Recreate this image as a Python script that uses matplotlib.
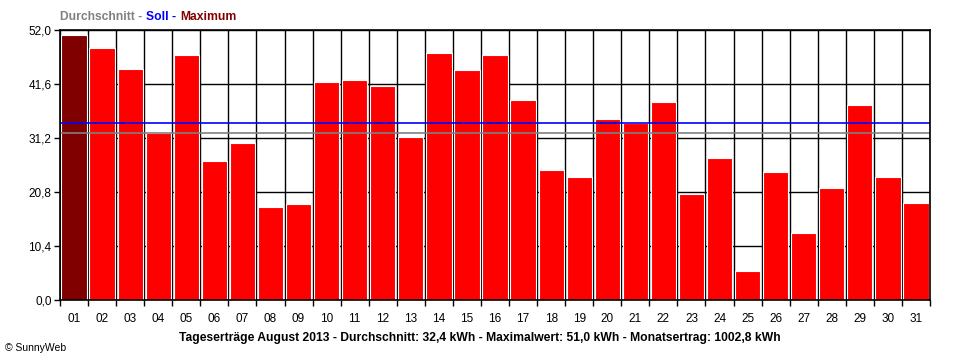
import numpy as np
import matplotlib
matplotlib.use("Agg")
import matplotlib.pyplot as plt

# daily yield, August 2013 (kWh)
days = ["%02d" % d for d in range(1, 32)]
ertrag = [51.0, 48.6, 44.4, 32.1, 47.2, 26.8, 30.3, 18.0, 18.4, 41.9,
          42.4, 41.3, 31.3, 47.6, 44.2, 47.1, 38.6, 25.1, 23.6, 34.9,
          34.0, 38.2, 20.5, 27.4, 5.6, 24.7, 13.0, 21.6, 37.6, 23.6, 18.7]
soll = 34.1
durchschnitt = 32.4
monatsertrag = 1002.8
y_ticks = [0.0, 10.4, 20.8, 31.2, 41.6, 52.0]

arr = np.array(ertrag)
maxwert = arr.max()


def de(v):
    return ("%.1f" % v).replace('.', ',')


plt.rcParams['font.family'] = ['Liberation Sans', 'DejaVu Sans']

fig = plt.figure(figsize=(9.6, 3.6), dpi=100)
ax = fig.add_axes([60 / 960, 60 / 360, 870 / 960, 270 / 360])

x = np.arange(len(days))
colors = ['#800000' if v == maxwert else '#ff0000' for v in ertrag]
ax.bar(x, ertrag, width=0.9, color=colors, edgecolor='white', linewidth=0.8, zorder=2)

# grid: horizontal at ticks, vertical at day boundaries
for yt in y_ticks:
    ax.axhline(yt, color='black', lw=1, zorder=1)
for b in np.arange(-0.5, len(days) + 0.5, 1):
    ax.axvline(b, color='black', lw=1, zorder=1)

ax.axhline(arr.mean(), color='#808080', lw=1.2, zorder=3)
ax.axhline(soll, color='#0000ff', lw=1.2, zorder=3)

ax.set_xlim(-0.5, len(days) - 0.5)
ax.set_ylim(0, 52)
ax.set_yticks(y_ticks)
ax.set_yticklabels([de(v) for v in y_ticks], fontsize=8.5)
ax.set_xticks(np.arange(-0.5, len(days), 1), minor=False)
ax.set_xticklabels([])
ax.set_xticks(x, minor=True)
ax.set_xticklabels(days, minor=True, fontsize=8.5)
ax.tick_params(axis='x', which='minor', length=0, pad=9)
ax.tick_params(axis='x', which='major', length=4, width=1, direction='out')
ax.tick_params(axis='y', length=4, width=1, direction='out', pad=2)
for s in ax.spines.values():
    s.set_linewidth(1.2)
    s.set_zorder(4)

# legend-like header
fig.text(60 / 960, 1 - 17 / 360, "Durchschnitt -", color='#808080', fontsize=8.7,
         fontweight='bold', va='center', ha='left')
fig.text(146 / 960, 1 - 17 / 360, "Soll -", color='#0000ff', fontsize=8.7,
         fontweight='bold', va='center', ha='left')
fig.text(180 / 960, 1 - 17 / 360, "Maximum", color='#800000', fontsize=8.7,
         fontweight='bold', va='center', ha='left')

titel = ("Tageserträge August 2013 - Durchschnitt: %s kWh - Maximalwert: %s kWh - Monatsertrag: %s kWh"
         % (de(durchschnitt), de(maxwert), de(monatsertrag)))
fig.text(480 / 960, 1 - 338 / 360, titel, fontsize=8.75, fontweight='bold', ha='center', va='center')
fig.text(5 / 960, 1 - 348 / 360, "© SunnyWeb", fontsize=7.5, ha='left', va='center')

fig.savefig("out.png", dpi=100)
